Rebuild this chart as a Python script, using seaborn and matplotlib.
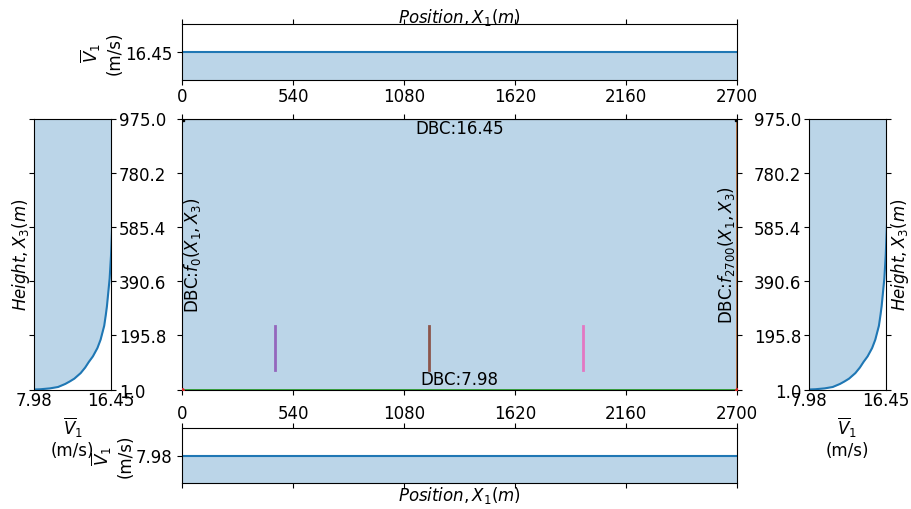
import matplotlib
matplotlib.use("Agg")
import matplotlib.pyplot as plt
import seaborn as sns

plt.rcParams["font.size"] = 12
plt.rcParams["font.family"] = ["DejaVu Sans"]

# ---- data -------------------------------------------------------------
x_ticks = [0, 540, 1080, 1620, 2160, 2700]
height_ticks = [1.0, 195.8, 390.6, 585.4, 780.2, 975.0]
domain_x = [0, 2700]
v_bottom = 7.98
v_top = 16.45

# inflow wind profile (height in m, mean speed in m/s)
profile_height = [1, 2, 5, 10, 21, 30, 40, 60, 80, 100, 120, 150, 180, 230,
                  270, 300, 340, 400, 482, 600, 800, 975]
profile_speed = [7.98, 8.7, 9.7, 10.6, 11.4, 11.9, 12.4, 13.1, 13.6, 14.0,
                 14.45, 14.95, 15.3, 15.7, 15.88, 16.0, 16.12, 16.3, 16.45,
                 16.6, 16.8, 16.95]

# turbine rotors: streamwise position and vertical extent
turbine_x = [450, 1200, 1950]
rotor_bottom = [70, 70, 70]
rotor_top = [230, 230, 230]
turbine_colors = ["C4", "C5", "C6"]


def box(x0, y0, x1, y1, W=912, H=510):
    return [x0 / W, 1 - y1 / H, (x1 - x0) / W, (y1 - y0) / H]


fig = plt.figure(figsize=(9.12, 5.10), dpi=100)
ax_c = fig.add_axes(box(182.5, 119.5, 737, 390.5))
ax_t = fig.add_axes(box(182.5, 25, 737, 81))
ax_b = fig.add_axes(box(182.5, 429, 737, 484))
ax_l = fig.add_axes(box(34.3, 119.5, 111, 390.5))
ax_r = fig.add_axes(box(809, 119.5, 885.7, 390.5))

hmin, hmax = height_ticks[0], height_ticks[-1]
vlabel = "$\\overline{V}_1$\n(m/s)"
pos_label = "$Position, X_1(m)$"
h_label = "$Height, X_3(m)$"

# ---- central domain ---------------------------------------------------
ax_c.fill_between(domain_x, [hmin, hmin], [hmax, hmax], color="C0", alpha=0.3, lw=0)
sns.lineplot(x=domain_x, y=[hmax, hmax], ax=ax_c, color="k", lw=1.5)
sns.lineplot(x=domain_x, y=[hmin, hmin], ax=ax_c, color="C2", lw=2)
sns.lineplot(x=[domain_x[1], domain_x[1]], y=[hmin, hmax], ax=ax_c,
             color="#b0602a", lw=1.2, sort=False, estimator=None)
ax_c.plot(domain_x, [hmin, hmin], "o", color="C3", ms=2.5, zorder=5)
ax_c.plot(domain_x, [hmax, hmax], "s", color="k", ms=2.5, zorder=5)
for tx, rb, rt, col in zip(turbine_x, rotor_bottom, rotor_top, turbine_colors):
    sns.lineplot(x=[tx, tx], y=[rb, rt], ax=ax_c, color=col, lw=2,
                 sort=False, estimator=None)
ax_c.set_xlim(domain_x)
ax_c.set_ylim(hmin, hmax)
ax_c.set_xticks(x_ticks)
ax_c.set_xticklabels([str(t) for t in x_ticks])
ax_c.set_yticks(height_ticks)
ax_c.tick_params(axis="x", top=True, pad=7)
ax_c.tick_params(axis="y", left=True, right=True, labelleft=False)
ax_c.text(sum(domain_x) / 2, hmax, f"DBC:{v_top:.2f}", ha="center", va="top")
ax_c.text(sum(domain_x) / 2, hmin + 5, f"DBC:{v_bottom:.2f}", ha="center", va="bottom")
ax_c.text(domain_x[0], (hmin + hmax) / 2, "DBC:$f_0(X_1,X_3)$",
          rotation=90, ha="left", va="center")
ax_c.text(domain_x[1], (hmin + hmax) / 2, "DBC:$f_{2700}(X_1,X_3)$",
          rotation=90, ha="right", va="center")

# ---- top boundary -----------------------------------------------------
d = 1.0
ax_t.set_ylim(v_top - d, v_top + d)
ax_t.fill_between(domain_x, [v_top - d] * 2, [v_top] * 2, color="C0", alpha=0.3, lw=0)
sns.lineplot(x=domain_x, y=[v_top, v_top], ax=ax_t, color="C0", lw=1.5)
ax_t.set_xlim(domain_x)
ax_t.set_xticks(x_ticks)
ax_t.set_xticklabels([str(t) for t in x_ticks])
ax_t.tick_params(axis="x", top=True, pad=1.5)
ax_t.set_yticks([v_top])
ax_t.set_yticklabels([f"{v_top:.2f}"])
ax_t.set_ylabel(vlabel, labelpad=1)
ax_t.xaxis.set_label_position("top")
ax_t.set_xlabel(pos_label, labelpad=-2)

# ---- bottom boundary --------------------------------------------------
ax_b.set_ylim(v_bottom - d, v_bottom + d)
ax_b.fill_between(domain_x, [v_bottom - d] * 2, [v_bottom] * 2, color="C0", alpha=0.3, lw=0)
sns.lineplot(x=domain_x, y=[v_bottom, v_bottom], ax=ax_b, color="C0", lw=1.5)
ax_b.set_xlim(domain_x)
ax_b.set_xticks(x_ticks)
ax_b.tick_params(axis="x", top=True, labelbottom=False)
ax_b.set_yticks([v_bottom])
ax_b.set_yticklabels([f"{v_bottom:.2f}"])
ax_b.set_ylabel(vlabel, labelpad=1)
ax_b.set_xlabel(pos_label, labelpad=-3)

# ---- inflow / outflow profiles ---------------------------------------
for ax, lab_left in ((ax_l, False), (ax_r, True)):
    ax.fill_betweenx(profile_height, v_bottom, profile_speed, color="C0", alpha=0.3, lw=0)
    sns.lineplot(x=profile_speed, y=profile_height, ax=ax, color="C0", lw=1.5,
                 sort=False, estimator=None)
    ax.set_xlim(v_bottom, v_top)
    ax.set_ylim(hmin, hmax)
    ax.set_xticks([v_bottom, v_top])
    ax.set_xticklabels([f"{v_bottom:.2f}", f"{v_top:.2f}"])
    ax.tick_params(axis="x", length=0, pad=1)
    ax.set_yticks(height_ticks)
    ax.set_yticklabels([f"{h:.1f}" for h in height_ticks])
    ax.tick_params(axis="y", left=True, right=True, pad=2,
                   labelleft=lab_left, labelright=not lab_left)
    ax.set_xlabel(vlabel)

ax_l.set_ylabel(h_label, labelpad=-2)
ax_r.yaxis.set_label_position("right")
ax_r.set_ylabel(h_label, labelpad=-1)

fig.savefig("out.png", dpi=100)
